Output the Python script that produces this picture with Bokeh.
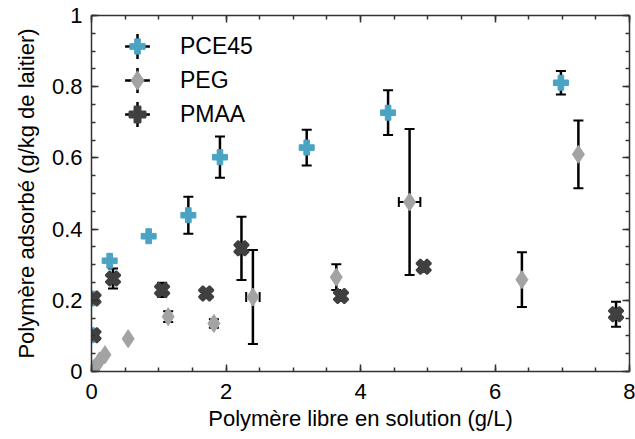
import math
from bokeh.plotting import figure
from bokeh.models import (ColumnDataSource, Whisker, TeeHead, LinearAxis, SingleIntervalTicker,
                          CustomJSTickFormatter, Legend, LegendItem, Range1d)
from bokeh.embed import file_html
from bokeh.resources import INLINE

# ---------------- data ----------------
pce_x = [0.0, 0.0, 0.27, 0.85, 1.44, 1.91, 3.20, 4.41, 6.98]
pce_y = [0.205, 0.102, 0.311, 0.380, 0.439, 0.602, 0.629, 0.727, 0.811]
pce_yerr = [0, 0, 0, 0, 0.052, 0.058, 0.05, 0.063, 0.033]
pce_xerr = [0, 0, 0, 0, 0, 0, 0, 0, 0]

peg_x = [0.04, 0.12, 0.20, 0.545, 1.14, 1.82, 2.40, 3.64, 4.73, 6.40, 7.24]
peg_y = [0.010, 0.030, 0.047, 0.092, 0.154, 0.135, 0.209, 0.265, 0.476, 0.258, 0.610]
peg_yerr = [0, 0, 0, 0, 0.015, 0.012, 0.132, 0.036, 0.205, 0.077, 0.095]
peg_xerr = [0, 0, 0, 0, 0, 0, 0.10, 0, 0.16, 0, 0]

pmaa_x = [0.03, 0.03, 0.03, 0.32, 1.05, 1.705, 2.23, 3.71, 4.94, 7.80]
pmaa_y = [0.205, 0.102, 0.005, 0.261, 0.229, 0.219, 0.346, 0.212, 0.294, 0.161]
pmaa_yerr = [0, 0, 0, 0.028, 0.02, 0, 0.089, 0, 0, 0.035]
pmaa_xerr = [0, 0, 0, 0, 0, 0, 0, 0, 0, 0]

series_names = ["PCE45", "PEG", "PMAA"]
x_ticks_interval = 2
y_ticks_interval = 0.2

# ---------------- style ----------------
FONT = "Liberation Sans"
BLUE = "#4ba3c3"
GREY = "#a3a3a3"
DARK = "#404040"
AXC = "#333333"

W, H = 635, 439
BL, BR, BT, BB = 91, 6, 15, 68
p = figure(width=W, height=H, output_backend="svg", toolbar_location=None,
           x_range=Range1d(0, 8), y_range=Range1d(0, 1),
           min_border_left=BL, min_border_right=BR, min_border_top=BT, min_border_bottom=BB,
           x_axis_label="Polymère libre en solution (g/L)",
           y_axis_label="Polymère adsorbé (g/kg de laitier)")
p.xgrid.grid_line_color = None
p.ygrid.grid_line_color = None
p.outline_line_color = None
p.background_fill_color = "white"
p.border_fill_color = "white"


def style_axis(ax):
    ax.axis_line_color = AXC
    ax.axis_line_width = 1.5
    ax.major_tick_line_color = AXC
    ax.major_tick_line_width = 1.5
    ax.minor_tick_line_color = AXC
    ax.minor_tick_line_width = 1.5
    ax.major_tick_in = 7
    ax.major_tick_out = 0
    ax.minor_tick_in = 4
    ax.minor_tick_out = 0
    ax.major_label_text_font = FONT
    ax.major_label_text_font_size = "22px"
    ax.major_label_text_color = "black"
    ax.axis_label_text_font = FONT
    ax.axis_label_text_font_size = "22px"
    ax.axis_label_text_font_style = "normal"
    ax.axis_label_text_color = "black"


p.xaxis.ticker = SingleIntervalTicker(interval=x_ticks_interval, num_minor_ticks=4)
p.yaxis.ticker = SingleIntervalTicker(interval=y_ticks_interval, num_minor_ticks=4)
p.yaxis.formatter = CustomJSTickFormatter(code="return (Math.round(tick*10)/10).toString();")
for ax in p.xaxis + p.yaxis:
    style_axis(ax)
p.xaxis.major_label_standoff = 12
p.xaxis.axis_label_standoff = 4
p.yaxis.major_label_standoff = 9
p.yaxis.axis_label_standoff = 10

empty_fmt = CustomJSTickFormatter(code="return '';")
top = LinearAxis(ticker=SingleIntervalTicker(interval=x_ticks_interval, num_minor_ticks=4),
                 formatter=empty_fmt)
right = LinearAxis(ticker=SingleIntervalTicker(interval=y_ticks_interval, num_minor_ticks=4),
                   formatter=empty_fmt)
for ax in (top, right):
    style_axis(ax)
    ax.major_label_text_font_size = "0px"
    ax.major_label_standoff = 0
p.add_layout(top, "above")
p.add_layout(right, "right")


# ---------------- error bars ----------------
def add_errors(xs, ys, yerr, xerr):
    iy = [i for i, e in enumerate(yerr) if e > 0]
    if iy:
        src = ColumnDataSource(dict(base=[xs[i] for i in iy],
                                    lower=[ys[i] - yerr[i] for i in iy],
                                    upper=[ys[i] + yerr[i] for i in iy]))
        p.add_layout(Whisker(source=src, base="base", lower="lower", upper="upper",
                             dimension="height", line_color="black", line_width=2.5,
                             upper_head=TeeHead(size=10, line_color="black", line_width=2),
                             lower_head=TeeHead(size=10, line_color="black", line_width=2)))
    ix = [i for i, e in enumerate(xerr) if e > 0]
    if ix:
        src = ColumnDataSource(dict(base=[ys[i] for i in ix],
                                    lower=[xs[i] - xerr[i] for i in ix],
                                    upper=[xs[i] + xerr[i] for i in ix]))
        p.add_layout(Whisker(source=src, base="base", lower="lower", upper="upper",
                             dimension="width", line_color="black", line_width=2,
                             upper_head=TeeHead(size=10, line_color="black", line_width=2),
                             lower_head=TeeHead(size=10, line_color="black", line_width=2)))


add_errors(pce_x, pce_y, pce_yerr, pce_xerr)
add_errors(peg_x, peg_y, peg_yerr, peg_xerr)
add_errors(pmaa_x, pmaa_y, pmaa_yerr, pmaa_xerr)

# ---------------- markers ----------------
r_pce = p.scatter(pce_x, pce_y, marker="plus", size=15, fill_color=BLUE, line_color=BLUE, line_width=1)
r_pmaa = p.scatter(pmaa_x, pmaa_y, marker="plus", size=15, angle=math.pi / 4,
                   fill_color=DARK, line_color=DARK, line_width=2)
r_peg = p.scatter(peg_x, peg_y, marker="diamond", size=18, fill_color=GREY, line_color=GREY, line_width=1)

# ---------------- legend ----------------
nan = float("nan")
r_cross = p.scatter([nan], [nan], marker="cross", size=25, line_color="black", line_width=2.5)

frame_bottom_page = H - BB
centers = [46, 80, 114]
marker_r = [r_pce, r_peg, r_pmaa]
marker_G = [38, 48, 40]
GC = 62

for c in centers:
    leg = Legend(items=[LegendItem(label=" ", renderers=[r_cross])],
                 location=(46 - GC // 2, frame_bottom_page - c - GC // 2),
                 glyph_width=GC, glyph_height=GC, padding=0, margin=0, spacing=0,
                 label_standoff=0, label_text_font_size="10px",
                 background_fill_color=None, border_line_color=None)
    p.add_layout(leg)

for name, c, r, G in zip(series_names, centers, marker_r, marker_G):
    leg = Legend(items=[LegendItem(label=name, renderers=[r])],
                 location=(46 - G // 2, frame_bottom_page - c - G // 2),
                 glyph_width=G, glyph_height=G, padding=0, margin=0, spacing=0,
                 label_standoff=43 - G // 2, label_text_font=FONT, label_text_font_size="23px",
                 label_text_color="black",
                 background_fill_color=None, border_line_color=None)
    p.add_layout(leg)

open("out.html", "w").write(file_html(p, INLINE))
